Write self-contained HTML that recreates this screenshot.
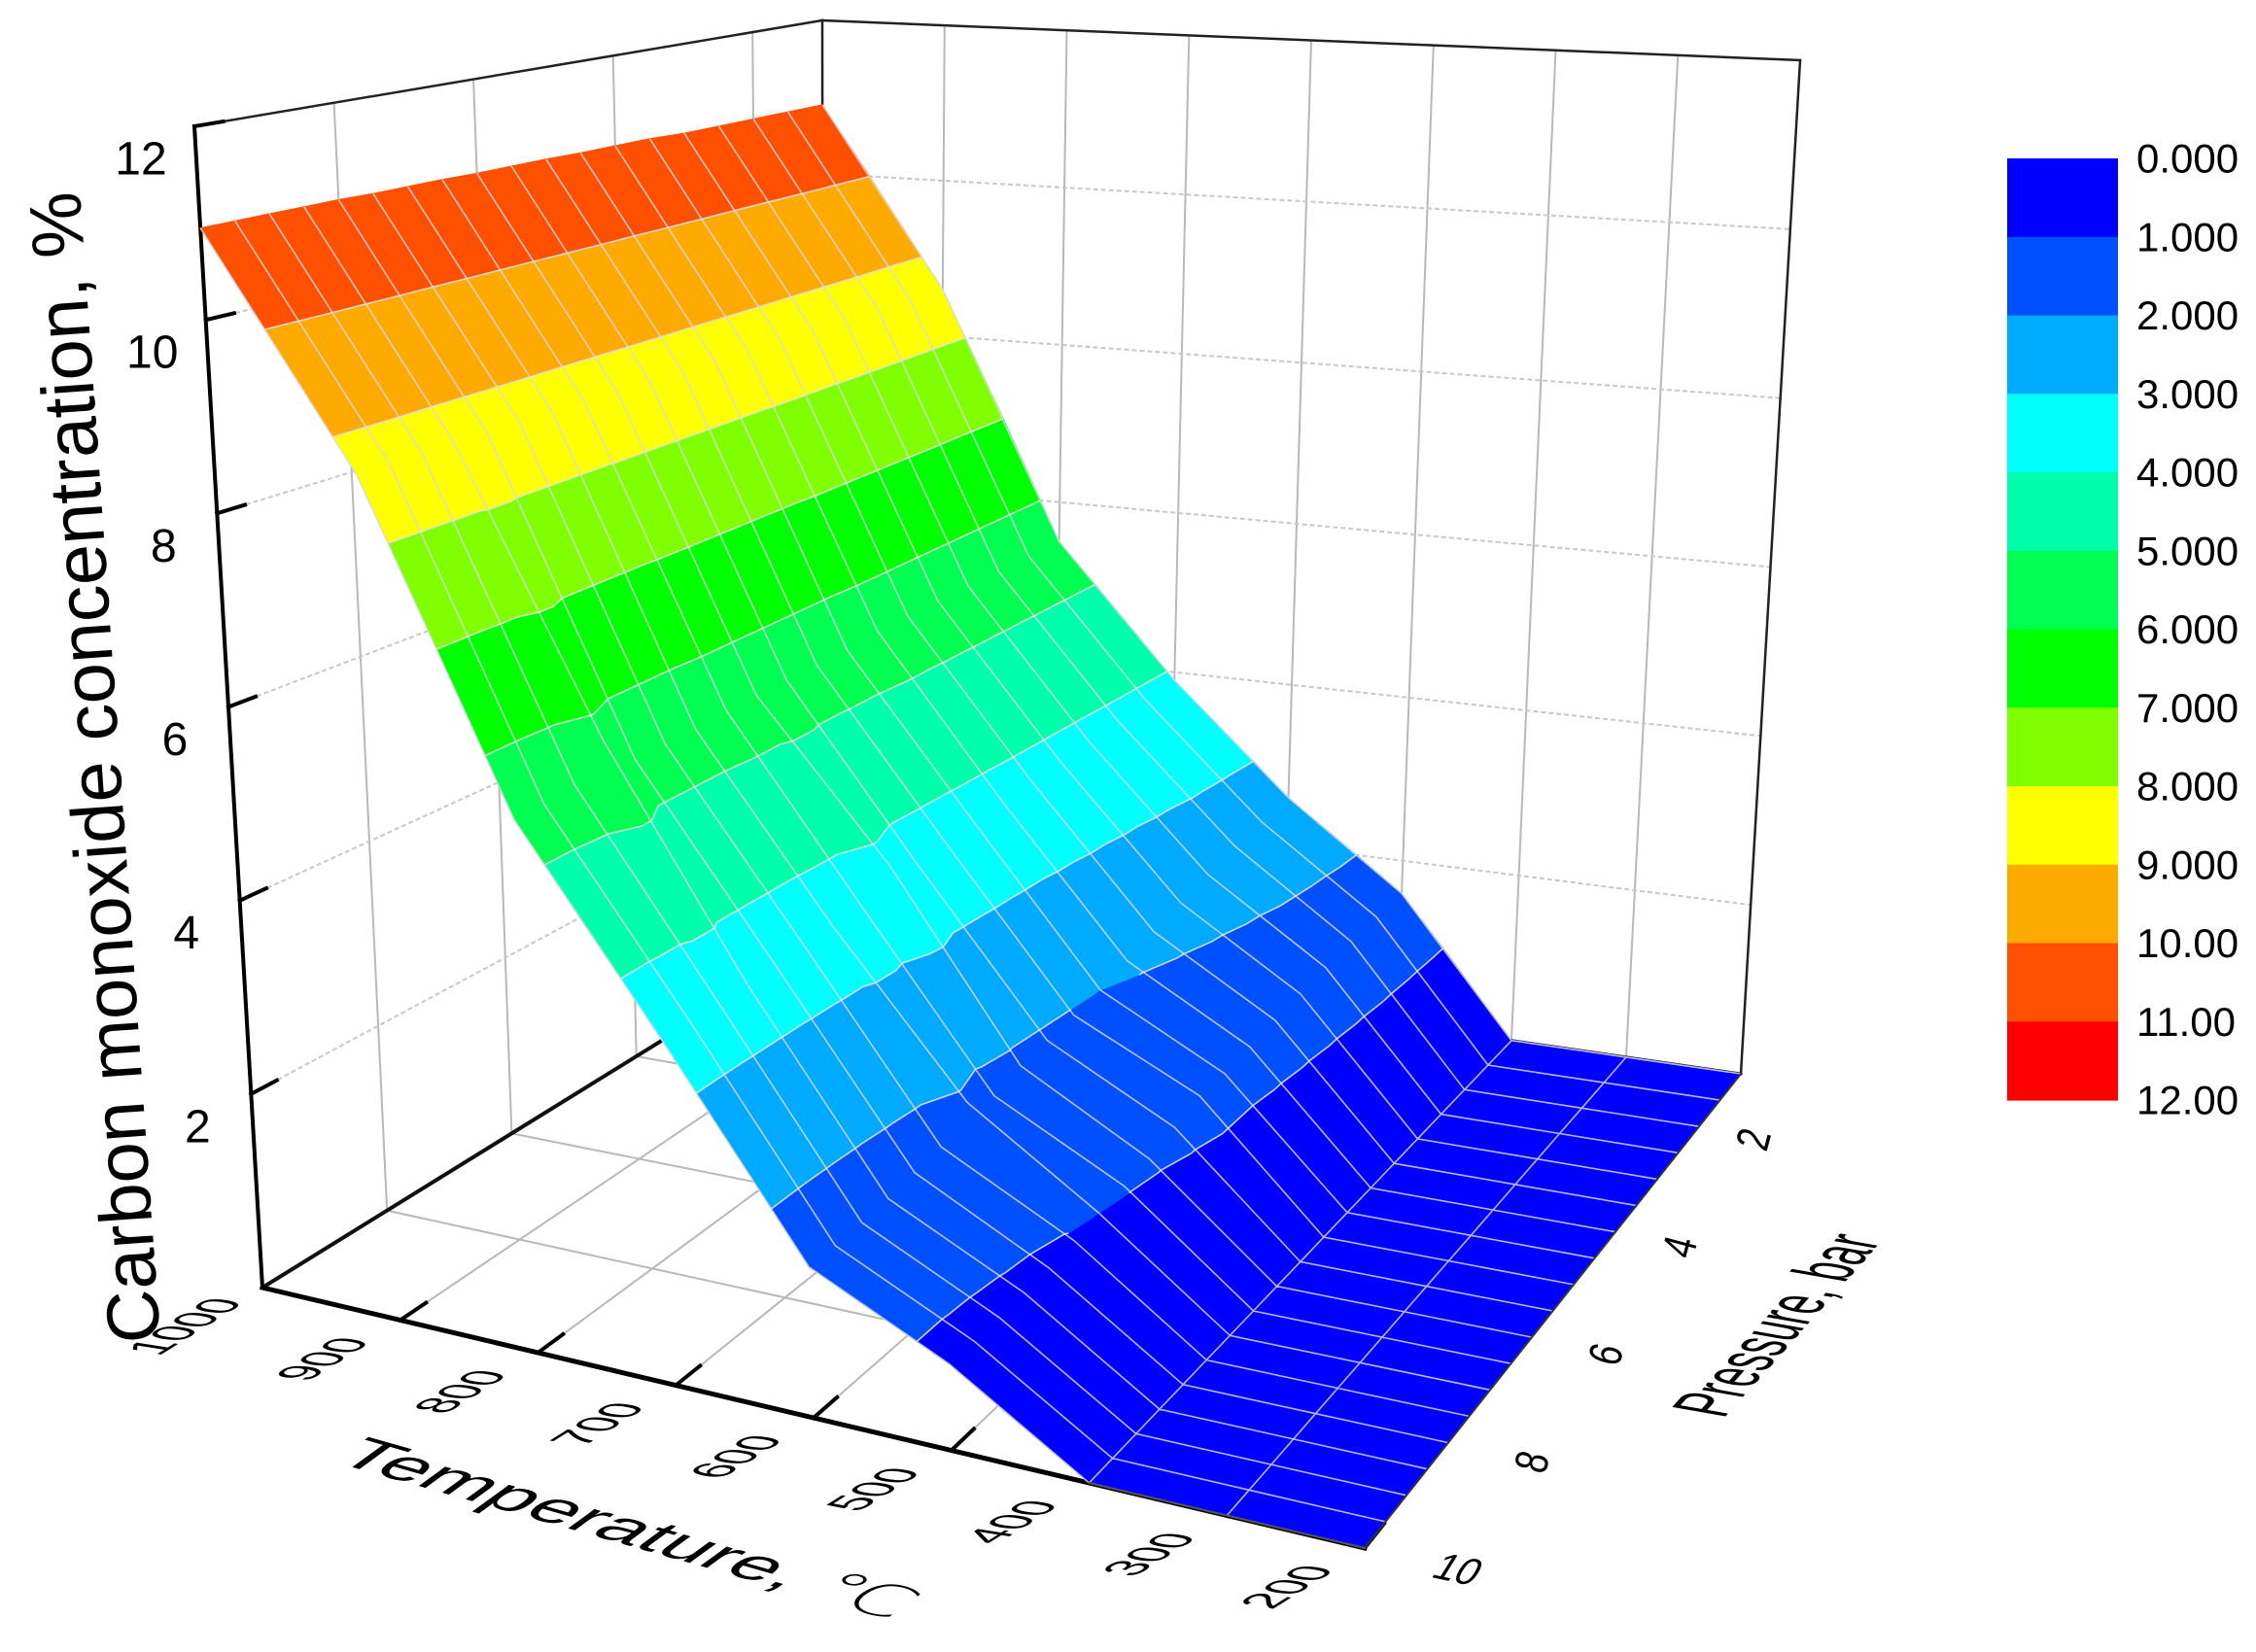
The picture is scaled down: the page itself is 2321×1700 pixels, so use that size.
<!DOCTYPE html>
<html><head><meta charset="utf-8"><title>CO concentration surface</title>
<style>html,body{margin:0;padding:0;background:#fff}svg{display:block}</style></head>
<body>
<svg id="chart" xmlns="http://www.w3.org/2000/svg" width="2321" height="1700" viewBox="0 0 2321 1700" font-family="'Liberation Sans','DejaVu Sans',Arial,sans-serif">
<rect x="0" y="0" width="2321" height="1700" fill="#fff"/>
<g id="walls"></g>
<g id="surface"></g>
<g id="labels"></g>
<text x="0" y="0" font-size="76" text-anchor="middle" dominant-baseline="central" transform="translate(98,790) rotate(-94)">Carbon monoxide concentration, %</text>
<text x="0" y="0" font-size="56" transform="matrix(1.41,0.40,-0.92,0.67,342,1504)">Temperature, <tspan font-family="'DejaVu Sans',sans-serif" font-weight="200">℃</tspan></text>
<text x="0" y="0" font-size="45" transform="matrix(0.605,-0.68,1.77,0.31,1773,1460)">Pressure, bar</text>
<g id="colorbar"></g>
</svg>
<script>
// ---- data ----
const temps = [1000, 900, 800, 700, 600, 500, 400, 300, 200];
const pressures = [1, 1.5, 2, 2.5, 3, 3.5, 4, 4.5, 5, 5.5, 6, 6.5, 7, 7.5, 8, 8.5, 9, 9.5, 10];
const coT1000 = [10.9,10.9,10.9,10.9,10.9,10.92,10.92,10.92,10.93,10.93,10.93,10.94,10.94,10.94,10.95,10.95,10.95,10.95,10.95];
const coT900  = [8.6,8.6,8.62,8.62,8.62,8.63,8.63,8.63,8.64,8.64,8.64,8.64,8.65,8.65,8.65,8.65,8.66,8.66,8.65];
const coT800  = [5.5,5.5,5.5,5.5,5.5,5.5,5.5,5.45,5.45,5.45,5.45,5.45,5.4,5.4,5.4,5.75,5.45,5.4,5.4];
const coT700  = [3.9,3.87,3.84,3.8,3.77,3.74,3.7,3.67,3.64,3.6,3.8,3.55,3.52,3.5,3.48,3.47,3.46,3.45,3.45];
const coT600  = [2.6,2.55,2.5,2.4,2.3,2.2,2.1,2.0,1.95,1.9,1.85,1.75,1.9,1.65,1.6,1.55,1.52,1.5,1.5];
const coT500  = [1.6,1.58,1.55,1.5,1.45,1.4,1.35,1.3,1.3,1.2,1.1,1.05,1.0,0.95,0.9,0.88,0.86,0.85,0.85];
const coT400  = [0,0,0,0,0,0,0,0,0,0,0,0,0,0,0,0,0,0,0];
const coT300  = [0,0,0,0,0,0,0,0,0,0,0,0,0,0,0,0,0,0,0];
const coT200  = [0,0,0,0,0,0,0,0,0,0,0,0,0,0,0,0,0,0,0];
const coGrid = [coT1000, coT900, coT800, coT700, coT600, coT500, coT400, coT300, coT200];
const zTicks = [2, 4, 6, 8, 10, 12];
const tTicks = [1000, 900, 800, 700, 600, 500, 400, 300, 200];
const pTicks = [2, 4, 6, 8, 10];
const levelLabels = ["0.000","1.000","2.000","3.000","4.000","5.000","6.000","7.000","8.000","9.000","10.00","11.00","12.00"];
const bandColors = ["#0000FF","#0050FF","#00AAFF","#00FFFF","#00FFAA","#00FF50","#00FF00","#80FF00","#FFFF00","#FFAA00","#FF5000","#FF0000"];

// ---- projection (box corners in pixels) ----
const A0=[270,1325], B0=[1404,1593], C0=[1791,1105], D0=[847,968];
const A1=[200,130],  B1=[1396,302],  C1=[1852,62],   D1=[846,21];
const Tmin=200, Tmax=1000, Pmin=1, Pmax=10, Zmax=12;
function bil(a,b,c,d,u,t){
  return [(1-u)*(1-t)*a[0]+u*(1-t)*b[0]+u*t*c[0]+(1-u)*t*d[0],
          (1-u)*(1-t)*a[1]+u*(1-t)*b[1]+u*t*c[1]+(1-u)*t*d[1]];
}
function proj(T,P,z){
  const u=(Tmax-T)/(Tmax-Tmin), t=(Pmax-P)/(Pmax-Pmin), w=z/Zmax;
  const f=bil(A0,B0,C0,D0,u,t), h=bil(A1,B1,C1,D1,u,t);
  return [f[0]+(h[0]-f[0])*w, f[1]+(h[1]-f[1])*w];
}
const NS='http://www.w3.org/2000/svg';
function mk(tag,parent){const e=document.createElementNS(NS,tag);parent.appendChild(e);return e;}
function line(parent,p,q,stroke,sw,name,dash){
  const l=mk('line',parent);
  l.setAttribute('x1',p[0].toFixed(1));l.setAttribute('y1',p[1].toFixed(1));
  l.setAttribute('x2',q[0].toFixed(1));l.setAttribute('y2',q[1].toFixed(1));
  l.setAttribute('stroke',stroke);l.setAttribute('stroke-width',sw);
  l.setAttribute('stroke-linecap','square');
  if(dash) l.setAttribute('stroke-dasharray',dash);
  
  
  return l;
}

// ---- walls, grid, axes ----
const walls=document.getElementById('walls');
const grid='#b8b8b8';
for(const P of pTicks.filter(p=>p<10)){
  line(walls,proj(Tmax,P,0),proj(Tmax,P,Zmax),grid,2,'left-wall-gridline');
  line(walls,proj(Tmax,P,0),proj(Tmin,P,0),grid,2,'floor-gridline-p');
}
for(const T of tTicks.filter(t=>t<Tmax&&t>Tmin)){
  line(walls,proj(T,Pmin,0),proj(T,Pmin,Zmax),grid,2,'back-wall-gridline');
  line(walls,proj(T,Pmax,0),proj(T,Pmin,0),grid,2,'floor-gridline-t');
}
for(const z of zTicks.filter(v=>v<Zmax)){
  line(walls,proj(Tmax,Pmax,z),proj(Tmax,Pmin,z),'#c8c8c8',2,'left-wall-z-gridline','3,5');
  line(walls,proj(Tmax,Pmin,z),proj(Tmin,Pmin,z),'#c8c8c8',2,'back-wall-z-gridline','3,5');
}
line(walls,proj(Tmax,Pmax,Zmax),proj(Tmax,Pmin,Zmax),'#222',2.5,'box-top-left-edge');
line(walls,proj(Tmax,Pmin,Zmax),proj(Tmin,Pmin,Zmax),'#222',2.5,'box-top-back-edge');
line(walls,proj(Tmin,Pmin,0),proj(Tmin,Pmin,Zmax),'#222',2.5,'box-right-edge');
line(walls,proj(Tmax,Pmin,0),proj(Tmax,Pmin,Zmax),'#222',2.5,'box-back-edge');
line(walls,proj(Tmax,Pmax,0),proj(Tmax,Pmin,0),'#111',4,'floor-left-edge');
line(walls,proj(Tmax,Pmin,0),proj(Tmin,Pmin,0),'#222',3,'floor-back-edge');
line(walls,proj(Tmax,Pmax,0),proj(Tmax,Pmax,Zmax),'#000',4,'z-axis-line');
line(walls,proj(Tmax,Pmax,0),proj(Tmin,Pmax,0),'#000',5,'x-axis-line');
function tickDir(T,P,z){
  const a=proj(T,P,z), b=proj(T,P-0.5,z); const dx=b[0]-a[0], dy=b[1]-a[1]; const L=Math.hypot(dx,dy);
  return [dx/L,dy/L];
}
for(const z of zTicks){
  const p=proj(Tmax,Pmax,z), d=tickDir(Tmax,Pmax,z);
  line(walls,p,[p[0]+d[0]*30,p[1]+d[1]*30],'#000',4,'z-axis-tick');
}
for(const T of tTicks.filter(t=>t<Tmax)){
  const p=proj(T,Pmax,0), d=tickDir(T,Pmax,0);
  line(walls,p,[p[0]+d[0]*32,p[1]+d[1]*32],'#000',4,'x-axis-tick');
}

// ---- surface ----
const surf=document.getElementById('surface');
function clip(poly,lo,keepAbove){
  const out=[];
  for(let i=0;i<poly.length;i++){
    const a=poly[i], b=poly[(i+1)%poly.length];
    const ina=keepAbove? a.z>=lo : a.z<=lo;
    const inb=keepAbove? b.z>=lo : b.z<=lo;
    if(ina) out.push(a);
    if(ina!==inb){
      const f=(lo-a.z)/(b.z-a.z);
      out.push({T:a.T+(b.T-a.T)*f,P:a.P+(b.P-a.P)*f,z:lo});
    }
  }
  return out;
}
function ptsStr(poly){return poly.map(q=>{const p=proj(q.T,q.P,q.z);return p[0].toFixed(1)+','+p[1].toFixed(1);}).join(' ');}
let contourPath='';
function drawTri(tri){
  for(let k=0;k<bandColors.length;k++){
    let poly=tri;
    if(k>0) poly=clip(poly,k,true);
    if(poly.length<3) continue;
    if(k<bandColors.length-1) poly=clip(poly,k+1,false);
    if(poly.length<3) continue;
    const pg=mk('polygon',surf);
    pg.setAttribute('points',ptsStr(poly));
    pg.setAttribute('fill',bandColors[k]);
    pg.setAttribute('stroke',bandColors[k]);
    pg.setAttribute('stroke-width','1');
    
    
  }
  for(let L=1;L<12;L++){
    const pts=[];
    for(let i=0;i<3;i++){
      const a=tri[i], b=tri[(i+1)%3];
      if((a.z<L&&b.z>L)||(a.z>L&&b.z<L)){
        const f=(L-a.z)/(b.z-a.z);
        pts.push(proj(a.T+(b.T-a.T)*f,a.P+(b.P-a.P)*f,L));
      }
    }
    if(pts.length===2) contourPath+='M'+pts[0][0].toFixed(1)+' '+pts[0][1].toFixed(1)+'L'+pts[1][0].toFixed(1)+' '+pts[1][1].toFixed(1);
  }
}
for(let i=0;i<temps.length-1;i++){
  for(let j=0;j<pressures.length-1;j++){
    const v=(a,b)=>({T:temps[a],P:pressures[b],z:coGrid[a][b]});
    const p00=v(i,j), p10=v(i+1,j), p11=v(i+1,j+1), p01=v(i,j+1);
    drawTri([p00,p10,p11]);
    drawTri([p00,p11,p01]);
  }
}
const mesh=mk('path',surf);
let md='';
for(let j=0;j<pressures.length;j++){
  temps.forEach((T,i)=>{const p=proj(T,pressures[j],coGrid[i][j]);md+=(i?'L':'M')+p[0].toFixed(1)+' '+p[1].toFixed(1);});
}
for(let i=0;i<temps.length;i++){
  if(temps[i]>400) continue;
  pressures.forEach((P,j)=>{const p=proj(temps[i],P,coGrid[i][j]);md+=(j?'L':'M')+p[0].toFixed(1)+' '+p[1].toFixed(1);});
}
mesh.setAttribute('d',md);
mesh.setAttribute('fill','none');
mesh.setAttribute('stroke','rgba(215,215,225,0.85)');
mesh.setAttribute('stroke-width','1.6');


const cl=mk('path',surf);
cl.setAttribute('d',contourPath);
cl.setAttribute('fill','none');
cl.setAttribute('stroke','rgba(225,225,225,0.9)');
cl.setAttribute('stroke-width','1.6');


line(surf,proj(Tmin,Pmax,0),proj(Tmin,Pmin,0),'#333',2,'y-axis-line');
line(surf,proj(400,Pmax,0),proj(Tmin,Pmax,0),'#555',2,'x-axis-front-edge');

// ---- tick labels ----
const lab=document.getElementById('labels');
function txt(parent,s,x,y,size,transform){
  const t=mk('text',parent);
  t.textContent=s;
  t.setAttribute('x',x);t.setAttribute('y',y);
  t.setAttribute('font-size',size);
  t.setAttribute('text-anchor','middle');
  t.setAttribute('dominant-baseline','central');
  if(transform) t.setAttribute('transform',transform);
  return t;
}
for(const z of zTicks){
  const p=proj(Tmax,Pmax,z);
  const t=txt(lab,String(z),(p[0]-55).toFixed(1),(p[1]+34).toFixed(1),48);
  
  
}
for(const T of tTicks){
  const p=proj(T,Pmax,0);
  const cx=p[0]-80, cy=p[1]+40;
  const t=txt(lab,String(T),0,0,40,'translate('+cx.toFixed(1)+','+cy.toFixed(1)+') matrix(1.01,-0.63,1.3,0.2,0,0)');
  
  
}
for(const P of pTicks){
  const p=proj(Tmin,P,0);
  const f=(Pmax-P)/(Pmax-Pmin);
  const cx=p[0]+96-45*f, cy=p[1]+22-10*f;
  const tr=P===10?'translate('+cx.toFixed(1)+','+cy.toFixed(1)+') rotate(12) skewX(-20)':'translate('+cx.toFixed(1)+','+cy.toFixed(1)+') rotate(-75) scale(0.9,1.2)';
  const t=txt(lab,String(P),0,0,40,tr);
  
  
}

// ---- color scale ----
const cb=document.getElementById('colorbar');
const cbX=2065, cbW=114, cbTop=163, cbBot=1132, cbH=(cbBot-cbTop)/bandColors.length;
bandColors.forEach((c,k)=>{
  const r=mk('rect',cb);
  r.setAttribute('x',cbX);r.setAttribute('y',(cbTop+k*cbH).toFixed(1));
  r.setAttribute('width',cbW);r.setAttribute('height',(cbH+0.6).toFixed(1));
  r.setAttribute('fill',c);
  
  
});
levelLabels.forEach((s,k)=>{
  const t=mk('text',cb);
  t.textContent=s;
  t.setAttribute('x',2198);t.setAttribute('y',(cbTop+k*cbH).toFixed(1));
  t.setAttribute('font-size',42);
  t.setAttribute('dominant-baseline','central');
  
  
});
</script>
</body></html>
